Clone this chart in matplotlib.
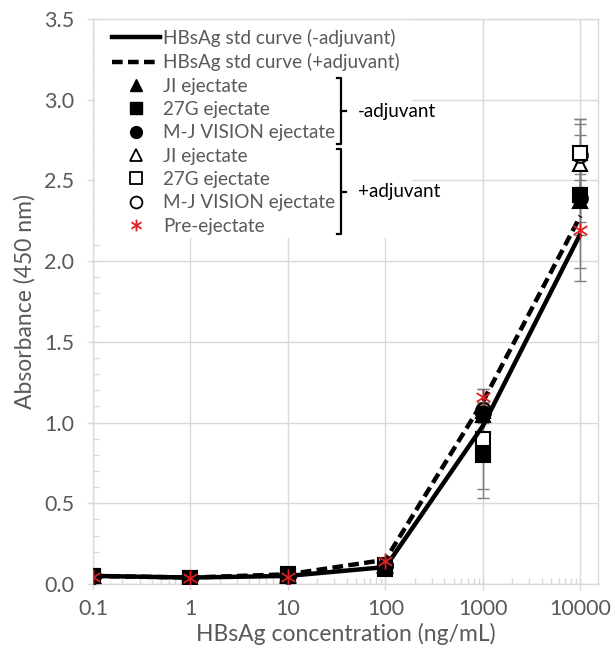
import matplotlib
matplotlib.use("Agg")
import matplotlib.pyplot as plt
import numpy as np
from matplotlib.path import Path
from matplotlib.ticker import LogLocator, MultipleLocator, NullFormatter
from matplotlib.lines import Line2D
from matplotlib.patches import Rectangle

plt.rcParams['font.family'] = ['Lato', 'DejaVu Sans']

# ---------------- data ----------------
conc = [0.1, 1, 10, 100, 1000, 10000]
conc_labels = ['0.1', '1', '10', '100', '1000', '10000']

std_neg = [0.05, 0.04, 0.05, 0.105, 0.98, 2.17]
std_pos = [0.05, 0.04, 0.06, 0.15, 1.13, 2.28]

ji_neg = [0.05, 0.04, 0.05, 0.11, 1.05, 2.37]
g27_neg = [0.05, 0.04, 0.05, 0.09, 0.80, 2.41]
mj_neg = [0.05, 0.04, 0.05, 0.11, 1.06, 2.39]
ji_pos = [0.05, 0.04, 0.055, 0.12, 1.07, 2.60]
g27_pos = [0.05, 0.04, 0.06, 0.12, 0.90, 2.67]
mj_pos = [0.05, 0.04, 0.055, 0.12, 1.08, 2.66]
pre = [0.045, 0.04, 0.045, 0.14, 1.16, 2.19]

ji_neg_sd = [0.01, 0.01, 0.01, 0.01, 0.05, 0.41]
g27_neg_sd = [0.01, 0.01, 0.01, 0.01, 0.27, 0.25]
mj_neg_sd = [0.01, 0.01, 0.01, 0.01, 0.05, 0.15]
ji_pos_sd = [0.01, 0.01, 0.01, 0.01, 0.05, 0.25]
g27_pos_sd = [0.01, 0.01, 0.01, 0.01, 0.31, 0.21]
mj_pos_sd = [0.01, 0.01, 0.01, 0.01, 0.05, 0.22]
pre_sd = [0.01, 0.01, 0.01, 0.01, 0.05, 0.31]

y_ticks = [0.0, 0.5, 1.0, 1.5, 2.0, 2.5, 3.0, 3.5]
y_labels = ['0.0', '0.5', '1.0', '1.5', '2.0', '2.5', '3.0', '3.5']

# ---------------- style ----------------
GRAY_TXT = '#595959'
GRID = '#d9d9d9'
ERR = '#7f7f7f'

star_path = Path(
    [(0, -1), (0, 1), (-0.85, -0.55), (0.85, 0.55), (-0.85, 0.55), (0.85, -0.55)],
    [Path.MOVETO, Path.LINETO, Path.MOVETO, Path.LINETO, Path.MOVETO, Path.LINETO])

fig = plt.figure(figsize=(6.15, 6.58), dpi=100)
ax = fig.add_axes([93 / 615, 1 - 584 / 658, 505 / 615, 565 / 658])

ax.set_xscale('log')
ax.set_xlim(0.1, 10 ** 4.18)
ax.set_ylim(0, 3.5)

ax.set_axisbelow(True)
ax.grid(True, which='major', color=GRID, linewidth=1.0)
for s in ax.spines.values():
    s.set_color(GRID)
    s.set_linewidth(1.0)

ax.set_xticks(conc)
ax.set_xticklabels(conc_labels)
ax.xaxis.set_minor_locator(LogLocator(base=10, subs=np.arange(2, 10)))
ax.xaxis.set_minor_formatter(NullFormatter())
ax.set_yticks(y_ticks)
ax.set_yticklabels(y_labels)
ax.yaxis.set_minor_locator(MultipleLocator(0.1))

ax.tick_params(axis='both', which='major', direction='inout', length=9, width=1,
               color=GRID, labelcolor=GRAY_TXT, labelsize=15.5)
ax.tick_params(axis='both', which='minor', direction='in', length=4, width=1, color=GRID)
ax.tick_params(axis='y', which='major', pad=9)
ax.tick_params(axis='x', which='major', pad=6)

ax.set_xlabel('HBsAg concentration (ng/mL)', fontsize=16.5, color=GRAY_TXT, labelpad=3)
ax.set_ylabel('Absorbance (450 nm)', fontsize=16.5, color=GRAY_TXT, labelpad=6)

ms = 10.5
series = [
    (ji_pos, ji_pos_sd, dict(marker='^', mfc='white', mec='black')),
    (mj_pos, mj_pos_sd, dict(marker='o', mfc='white', mec='black')),
    (g27_pos, g27_pos_sd, dict(marker='s', mfc='white', mec='black')),
    (ji_neg, ji_neg_sd, dict(marker='^', mfc='black', mec='black')),
    (mj_neg, mj_neg_sd, dict(marker='o', mfc='black', mec='black')),
    (g27_neg, g27_neg_sd, dict(marker='s', mfc='black', mec='black')),
]
for vals, sd, st in series:
    ax.errorbar(conc, vals, yerr=sd, fmt='none', ecolor=ERR, elinewidth=1.0,
                capsize=4, capthick=1.0, zorder=3)
for vals, sd, st in series:
    ax.plot(conc, vals, linestyle='none', markersize=ms, markeredgewidth=1.5,
            zorder=4, **st)

ax.plot(conc, std_neg, color='black', linewidth=3.2, zorder=5,
        solid_capstyle='butt')
ax.plot(conc, std_pos, color='black', linewidth=3.2, linestyle=(0, (2.4, 1.2)),
        zorder=5)

ax.errorbar(conc, pre, yerr=pre_sd, fmt='none', ecolor=ERR, elinewidth=1.0,
            capsize=4, capthick=1.0, zorder=3)
ax.plot(conc, pre, linestyle='none', marker=star_path, markersize=ms * 1.1,
        mfc='none', mec='#e02020', markeredgewidth=1.3, zorder=6)

# white legend background
ax.add_patch(Rectangle((0.003, (584 - 238) / 565), (412 - 95) / 505, 1.0,
                       transform=ax.transAxes, facecolor='white', edgecolor='none',
                       zorder=1))

lms = 8.5
handles = [
    Line2D([], [], color='black', linewidth=3.2),
    Line2D([], [], color='black', linewidth=3.2, linestyle=(0, (2.4, 1.2))),
    Line2D([], [], linestyle='none', marker='^', mfc='black', mec='black', ms=lms),
    Line2D([], [], linestyle='none', marker='s', mfc='black', mec='black', ms=lms),
    Line2D([], [], linestyle='none', marker='o', mfc='black', mec='black', ms=lms),
    Line2D([], [], linestyle='none', marker='^', mfc='white', mec='black', ms=lms, mew=1.3),
    Line2D([], [], linestyle='none', marker='s', mfc='white', mec='black', ms=lms, mew=1.3),
    Line2D([], [], linestyle='none', marker='o', mfc='white', mec='black', ms=lms, mew=1.3),
    Line2D([], [], linestyle='none', marker=star_path, mfc='none', mec='#e02020', ms=lms, mew=1.3),
]
labels = ['HBsAg std curve (-adjuvant)', 'HBsAg std curve (+adjuvant)',
          'JI ejectate', '27G ejectate', 'M-J VISION ejectate',
          'JI ejectate', '27G ejectate', 'M-J VISION ejectate', 'Pre-ejectate']
FS_LEG = 13.6
leg = ax.legend(handles, labels, loc='upper left',
                bbox_to_anchor=((112 - 93) / 505, (584 - 29) / 565),
                frameon=False, borderpad=0, borderaxespad=0, fontsize=FS_LEG,
                handlelength=48 / (FS_LEG * 100 / 72), handletextpad=0.15,
                labelspacing=0.335)
for t in leg.get_texts():
    t.set_color(GRAY_TXT)
leg.set_zorder(7)

# brackets (decorative) positioned from legend rows
fig.canvas.draw()
inv = ax.transAxes.inverted()
texts = leg.get_texts()

def row_y(i):
    bb = texts[i].get_window_extent()
    return inv.transform((0, (bb.y0 + bb.y1) / 2))[1]

xb = (341 - 93) / 505
hook = 4 / 505
tickw = 5 / 505

def bracket(i0, i1, label, top_off, bot_off):
    ytop = row_y(i0) + top_off / 565
    ybot = row_y(i1) - bot_off / 565
    ymid = (ytop + ybot) / 2
    ax.plot([xb - hook, xb, xb, xb - hook], [ytop, ytop, ybot, ybot],
            transform=ax.transAxes, color='black', linewidth=1.6, zorder=8,
            clip_on=False, solid_joinstyle='round')
    ax.plot([xb, xb + tickw], [ymid, ymid], transform=ax.transAxes,
            color='black', linewidth=1.6, zorder=8)
    ax.text(xb + 17 / 505, ymid, label, transform=ax.transAxes, fontsize=FS_LEG,
            color='black', va='center', ha='left', zorder=8)

bracket(2, 4, '-adjuvant', 8, 11)
bracket(5, 8, '+adjuvant', 7, 8)

fig.savefig('out.png', dpi=100)
